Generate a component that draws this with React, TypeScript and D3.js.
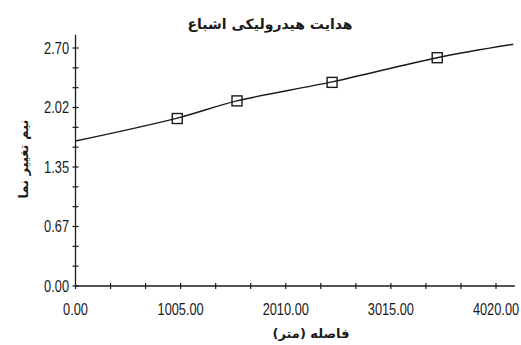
import React from "react";
import * as d3 from "d3";

// Experimental semivariogram points (lag distance in metres, semivariance)
const lagDistances = [973, 1544, 2453, 3458];
const semivariances = [1.9, 2.1, 2.31, 2.59];

// Fitted model curve, sampled along the lag axis
const modelDistances = [0, 973, 1544, 2453, 3458, 4185];
const modelValues = [1.645, 1.905, 2.1, 2.315, 2.59, 2.742];

const xTickValues = [0, 1005, 2010, 3015, 4020];
const xTickLabels = ["0.00", "1005.00", "2010.00", "3015.00", "4020.00"];
const yTickValues = [0, 0.675, 1.35, 2.025, 2.7];
const yTickLabels = ["0.00", "0.67", "1.35", "2.02", "2.70"];

const title = "هدایت هیدرولیکی اشباع";
const xTitle = "فاصله (متر)";
const yTitle = "نیم تغییر نما";

const W = 521;
const H = 345;

export default function App() {
  const x = d3.scaleLinear().domain([0, 4020]).range([75.5, 496]);
  const y = d3.scaleLinear().domain([0, 2.7]).range([286, 48]);

  const xMinor = d3.range(0, 4020 + 1, 335);
  const yMinor = d3.range(0, 2.7 + 0.001, 0.225);

  const line = d3
    .line<number>()
    .x((_, i) => x(modelDistances[i]))
    .y((d) => y(d))
    .curve(d3.curveCatmullRom.alpha(0.5));

  const tickFont = "'Liberation Sans', Arial, sans-serif";
  const faFont = "'DejaVu Sans', sans-serif";
  const ink = "#1a1a1a";
  const squeeze = 0.8;

  return (
    <svg
      width={W}
      height={H}
      viewBox={`0 0 ${W} ${H}`}
      style={{ position: "absolute", left: 0, top: 0, background: "#fff" }}
    >
      <rect width={W} height={H} fill="#fff" />

      {/* title */}
      <text
        x={270}
        y={29}
        textAnchor="middle"
        fontFamily={faFont}
        fontWeight="bold"
        fontSize={14}
        fill={ink}
      >
        {title}
      </text>

      {/* axes */}
      <line x1={x(0)} x2={x(4200)} y1={y(0)} y2={y(0)} stroke={ink} strokeWidth={1.3} />
      <line x1={x(0)} x2={x(0)} y1={y(0)} y2={y(2.85)} stroke={ink} strokeWidth={1.3} />

      {xMinor.map((v) => (
        <line key={"xt" + v} x1={x(v)} x2={x(v)} y1={y(0) - 3} y2={y(0) + 3} stroke={ink} strokeWidth={1.2} />
      ))}
      {yMinor.map((v) => (
        <line key={"yt" + v} x1={x(0) - 3} x2={x(0) + 3} y1={y(v)} y2={y(v)} stroke={ink} strokeWidth={1.2} />
      ))}

      {xTickValues.map((v, i) => (
        <g key={"xl" + v} transform={`translate(${x(v)},315) scale(${squeeze},1)`}>
          <text textAnchor="middle" fontFamily={tickFont} fontSize={16} fill={ink}>
            {xTickLabels[i]}
          </text>
        </g>
      ))}
      {yTickValues.map((v, i) => (
        <g key={"yl" + v} transform={`translate(69,${y(v)}) scale(${squeeze},1)`}>
          <text dy="0.36em" textAnchor="end" fontFamily={tickFont} fontSize={16} fill={ink}>
            {yTickLabels[i]}
          </text>
        </g>
      ))}

      {/* axis titles */}
      <text
        x={311}
        y={338}
        textAnchor="middle"
        fontFamily={faFont}
        fontWeight="bold"
        fontSize={13}
        fill={ink}
      >
        {xTitle}
      </text>
      <text
        transform={`translate(28,159) rotate(-90)`}
        textAnchor="middle"
        fontFamily={faFont}
        fontWeight="bold"
        fontSize={13}
        fill={ink}
      >
        {yTitle}
      </text>

      {/* model curve */}
      <path d={line(modelValues) || ""} fill="none" stroke={ink} strokeWidth={1.4} />

      {/* experimental points */}
      {lagDistances.map((d, i) => (
        <rect
          key={"p" + i}
          x={x(d) - 5}
          y={y(semivariances[i]) - 5}
          width={10}
          height={10}
          fill="none"
          stroke={ink}
          strokeWidth={1.4}
        />
      ))}
    </svg>
  );
}
